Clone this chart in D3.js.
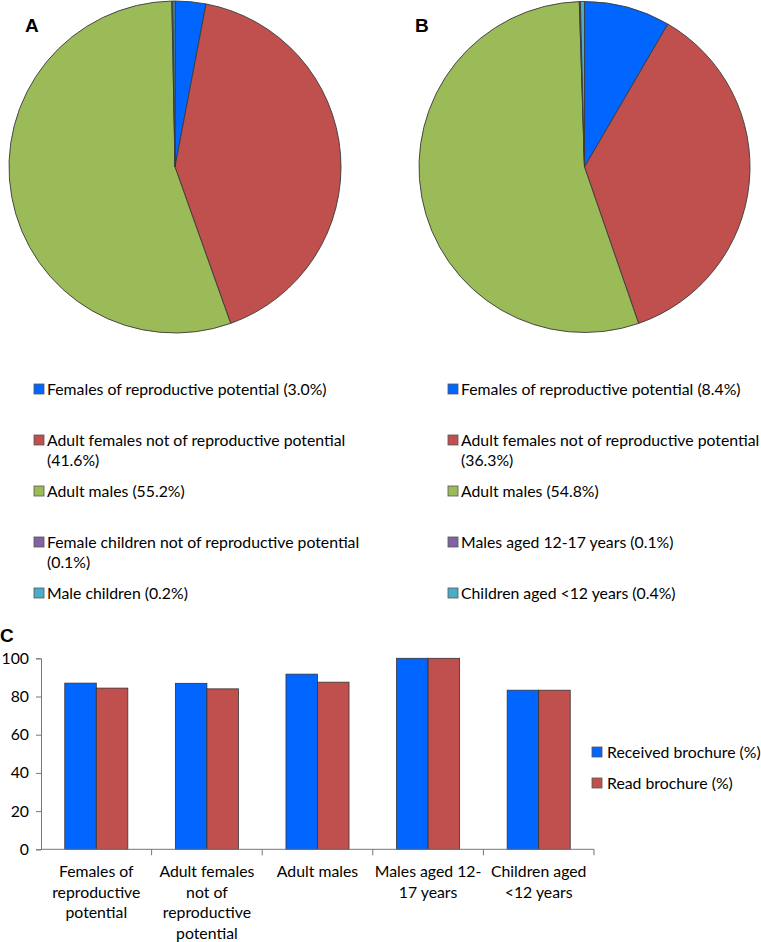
<!DOCTYPE html>
<html><head><meta charset="utf-8">
<script src="https://cdn.jsdelivr.net/npm/d3@7"></script>
<style>body{margin:0;background:#fff}svg{display:block}</style>
</head><body>
<svg id="c" width="761" height="942"></svg>
<script>
const pieColors = ["#0066ff", "#c0504d", "#9bbb59", "#8064a2", "#4bacc6"];
const pieALabels = ["Females of reproductive potential (3.0%)", "Adult females not of reproductive potential|(41.6%)", "Adult males (55.2%)", "Female children not of reproductive potential|(0.1%)", "Male children (0.2%)"];
const pieAValues = [3.0, 41.6, 55.2, 0.1, 0.2];
const pieBLabels = ["Females of reproductive potential (8.4%)", "Adult females not of reproductive potential|(36.3%)", "Adult males (54.8%)", "Males aged 12-17 years (0.1%)", "Children aged <12 years (0.4%)"];
const pieBValues = [8.4, 36.3, 54.8, 0.1, 0.4];

const barCategories = ["Females of|reproductive|potential", "Adult females|not of|reproductive|potential", "Adult males", "Males aged 12-|17 years", "Children aged|<12 years"];
const receivedValues = [87.0, 86.9, 91.7, 100, 83.3];
const readValues = [84.4, 84.0, 87.5, 100, 83.3];
const seriesNames = ["Received brochure (%)", "Read brochure (%)"];
const seriesColors = ["#0066ff", "#c0504d"];
const yTicks = [0, 20, 40, 60, 80, 100];

const FONT = "Lato, 'Open Sans', sans-serif";
const svg = d3.select("#c");

function drawPie(cx, cy, r, values, labels, letter, lx, legendX) {
  const g = svg.append("g").attr("transform", `translate(${cx},${cy})`);
  const pie = d3.pie().sort(null).value(d => d);
  const arc = d3.arc().innerRadius(0).outerRadius(r);
  g.selectAll("path").data(pie(values)).join("path")
    .attr("d", arc).attr("fill", (d, i) => pieColors[i])
    .attr("stroke", "#3a3a3a").attr("stroke-width", 0.9);
  svg.append("text").attr("x", lx).attr("y", 32).text(letter)
    .attr("font-family", "'Liberation Sans', Arial, sans-serif").attr("font-weight", "bold").attr("font-size", 19);
  const rowY = [389, 440, 491, 542, 593];
  labels.forEach((lab, i) => {
    svg.append("rect").attr("x", legendX).attr("y", rowY[i] - 5).attr("width", 10).attr("height", 10)
      .attr("fill", pieColors[i]).attr("stroke", "#555").attr("stroke-width", 0.8);
    const t = svg.append("text").attr("font-family", FONT).attr("font-size", 15.8).attr("fill", "#000");
    lab.split("|").forEach((ln, j) => {
      t.append("tspan").attr("x", legendX + 13).attr("y", rowY[i] + 5.5 + j * 20.5).text(ln);
    });
  });
}
drawPie(175, 167, 166, pieAValues, pieALabels, "A", 25, 34);
drawPie(584.5, 167, 165.5, pieBValues, pieBLabels, "B", 415, 448);

// Bar chart C
svg.append("text").attr("x", 0).attr("y", 642).text("C")
  .attr("font-family", "'Liberation Sans', Arial, sans-serif").attr("font-weight", "bold").attr("font-size", 19);

const x0 = d3.scaleBand().domain(barCategories).range([41, 594]).paddingInner(0).paddingOuter(0);
const y = d3.scaleLinear().domain([0, 100]).range([849.3, 658.3]);
const barW = x0.bandwidth() * 0.285;
const gBars = svg.append("g");
barCategories.forEach((c, i) => {
  const cxm = x0(c) + x0.bandwidth() / 2;
  [receivedValues[i], readValues[i]].forEach((v, k) => {
    gBars.append("rect")
      .attr("x", cxm - barW + k * barW).attr("y", y(v))
      .attr("width", barW).attr("height", y(0) - y(v))
      .attr("fill", seriesColors[k]).attr("stroke", "#333").attr("stroke-width", 0.8);
  });
});

const yAxis = svg.append("g").attr("transform", "translate(41,0)")
  .call(d3.axisLeft(y).tickValues(yTicks).tickSize(5).tickPadding(7));
yAxis.select(".domain").attr("stroke", "#777");
yAxis.selectAll(".tick line").attr("stroke", "#777");
yAxis.selectAll("text").attr("font-family", FONT).attr("font-size", 15.8).attr("fill", "#000");

const xAxis = svg.append("g").attr("transform", `translate(0,${y(0)})`);
xAxis.append("line").attr("x1", 41).attr("x2", 594).attr("y1", 0).attr("y2", 0).attr("stroke", "#777");
const bounds = barCategories.map(c => x0(c)).concat([x0.range()[1]]);
xAxis.selectAll("line.tk").data(bounds.slice(1)).join("line").attr("class", "tk")
  .attr("x1", d => d).attr("x2", d => d).attr("y1", 0).attr("y2", 6).attr("stroke", "#777");
barCategories.forEach(c => {
  const t = xAxis.append("text").attr("text-anchor", "middle").attr("font-family", FONT).attr("font-size", 15.8).attr("fill", "#000");
  c.split("|").forEach((ln, j) => {
    t.append("tspan").attr("x", x0(c) + x0.bandwidth() / 2).attr("y", 28 + j * 20.5).text(ln);
  });
});

seriesNames.forEach((s, k) => {
  const yy = 752 + k * 31;
  svg.append("rect").attr("x", 592).attr("y", yy - 5).attr("width", 10).attr("height", 10)
    .attr("fill", seriesColors[k]).attr("stroke", "#555").attr("stroke-width", 0.8);
  svg.append("text").attr("x", 607).attr("y", yy + 5.5).text(s)
    .attr("font-family", FONT).attr("font-size", 15.8).attr("fill", "#000");
});
</script>
</body></html>
